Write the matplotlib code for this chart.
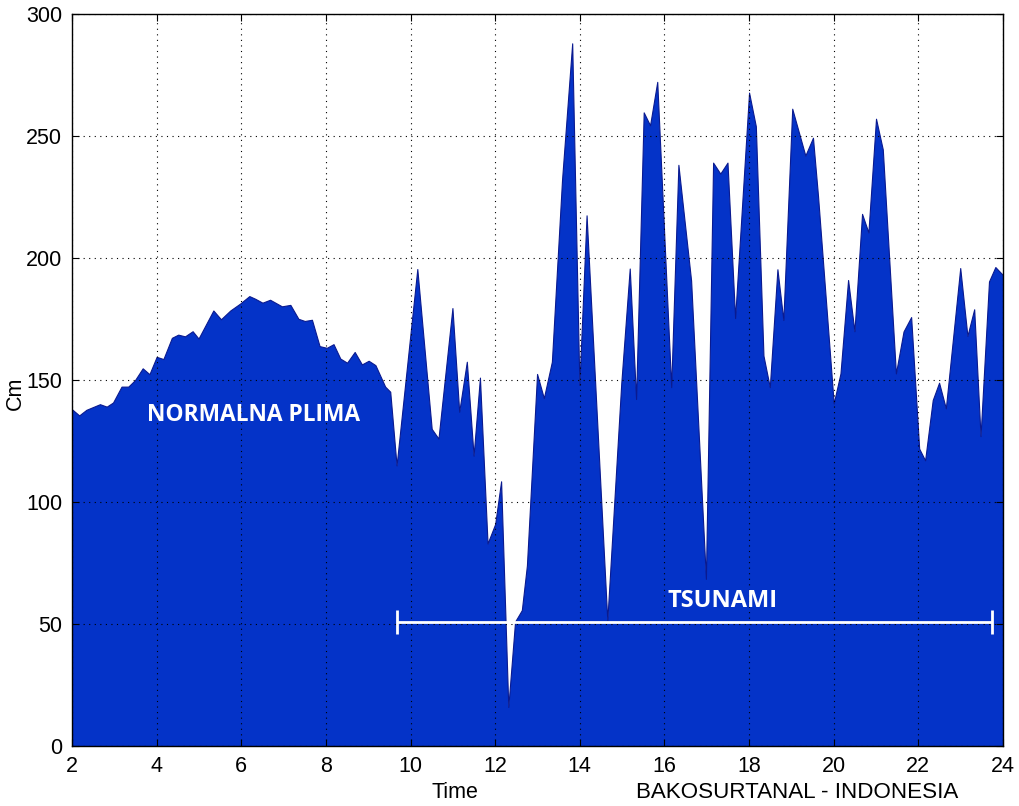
"""
Tide gauge record, Bakosurtanal - Indonesia: normal tide vs tsunami
"""

import numpy as np
import matplotlib
matplotlib.use('Agg')
import matplotlib.pyplot as plt

plt.rcParams['font.family'] = ['Liberation Sans', 'DejaVu Sans']

# Sea level record (time, cm)
time = [2.0, 2.17, 2.34, 2.66, 2.82, 2.97, 3.17, 3.33, 3.49, 3.67, 3.83,
        4.0, 4.16, 4.36, 4.51, 4.67, 4.85, 4.99, 5.34, 5.52, 5.74, 5.97,
        6.19, 6.33, 6.50, 6.68, 6.96, 7.16, 7.35, 7.50, 7.67, 7.85, 8.02,
        8.18, 8.34, 8.50, 8.68, 8.85, 9.01, 9.17, 9.40, 9.52, 9.67,
        10.16, 10.5, 10.66, 10.99, 11.15, 11.33, 11.49, 11.64, 11.82, 12.0,
        12.14, 12.31, 12.47, 12.63, 12.75, 12.99, 13.15, 13.34, 13.58, 13.82,
        13.99, 14.16, 14.65, 14.98, 15.18, 15.33, 15.51, 15.66, 15.83, 16.16,
        16.33, 16.63, 16.98, 17.15, 17.32, 17.49, 17.67, 18.0, 18.16, 18.34,
        18.49, 18.67, 18.81, 19.02, 19.33, 19.51, 19.63, 20.0, 20.16, 20.34,
        20.49, 20.67, 20.82, 21.0, 21.16, 21.47, 21.65, 21.83, 22.02, 22.16,
        22.34, 22.49, 22.65, 22.99, 23.16, 23.32, 23.47, 23.67, 23.82, 24.0]
level = [138, 135.5, 137.8, 140.1, 139.1, 140.8, 147.3, 147.3, 150, 154.8, 152.4,
         159.5, 158.6, 167.3, 168.6, 167.9, 170, 167, 178.5, 174.9, 178.5, 181.3,
         184.4, 183.3, 181.7, 182.9, 180.2, 180.8, 175.1, 174.2, 174.7, 163.9, 163.2,
         164.7, 158.8, 157.1, 161.5, 156.4, 157.9, 156.1, 147.3, 145.2, 115,
         195.5, 130, 126, 179.5, 137, 157.5, 119, 151, 83, 91,
         108.5, 16, 51, 55.7, 74, 152.5, 142.6, 157.5, 232, 288,
         148, 217.5, 51.5, 148.7, 195.7, 142.2, 259.7, 254.4, 272.2, 147.1,
         238.2, 190.8, 68.5, 239.1, 234.6, 239.1, 175.4, 267.8, 254, 160,
         147.1, 195.4, 174.6, 261.2, 242, 249.3, 225.3, 140.4, 152.7, 191,
         170, 218.1, 210.5, 257.1, 244.5, 152.7, 169.9, 175.8, 121.9, 117.1,
         141.8, 148.9, 138.4, 195.9, 168.1, 179, 127, 190.4, 196.3, 193]

# Tsunami interval marker
tsunami_start = 9.68
tsunami_end = 23.74
tsunami_level = 51

fig = plt.figure(figsize=(10.2, 8.06), dpi=100)
ax = fig.add_axes([0.0706, 0.0744, 0.9127, 0.9082])

ax.fill_between(time, 0, level, facecolor='#0433C8', edgecolor='#0A1A90', linewidth=0.8, zorder=1)

# Tsunami span bar
mid = (tsunami_start + tsunami_end) / 2
ax.errorbar([mid], [tsunami_level], xerr=[(tsunami_end - tsunami_start) / 2],
            fmt='none', ecolor='white', elinewidth=2, capsize=8.6, capthick=2, zorder=4)

ax.text(6.3, 135.5, 'NORMALNA PLIMA', color='white', fontsize=16.4, fontweight='bold',
        family=['Open Sans', 'DejaVu Sans'], ha='center', va='center', zorder=5)
ax.text(17.37, 59.5, 'TSUNAMI', color='white', fontsize=17, fontweight='bold',
        family=['Open Sans', 'DejaVu Sans'], ha='center', va='center', zorder=5)

ax.set_xlim(2, 24)
ax.set_ylim(0, 300)
ax.set_xticks(np.arange(2, 25, 2))
ax.set_yticks(np.arange(0, 301, 50))
ax.tick_params(direction='in', length=5, width=0.8, labelsize=15.5, top=True, right=True, pad=7)
ax.grid(True, linestyle=(0, (1, 4)), color='black', linewidth=0.8)
ax.set_axisbelow(False)
for sp in ax.spines.values():
    sp.set_linewidth(1)
    sp.set_zorder(6)

fig.text(0.0147, 0.512, 'Cm', rotation=90, fontsize=15.5, ha='center', va='center')
fig.text(0.446, 0.017, 'Time', fontsize=15.5, ha='center', va='center')
fig.text(0.7815, 0.017, 'BAKOSURTANAL - INDONESIA', fontsize=16.1, ha='center', va='center')

fig.savefig('out.png', dpi=100)
